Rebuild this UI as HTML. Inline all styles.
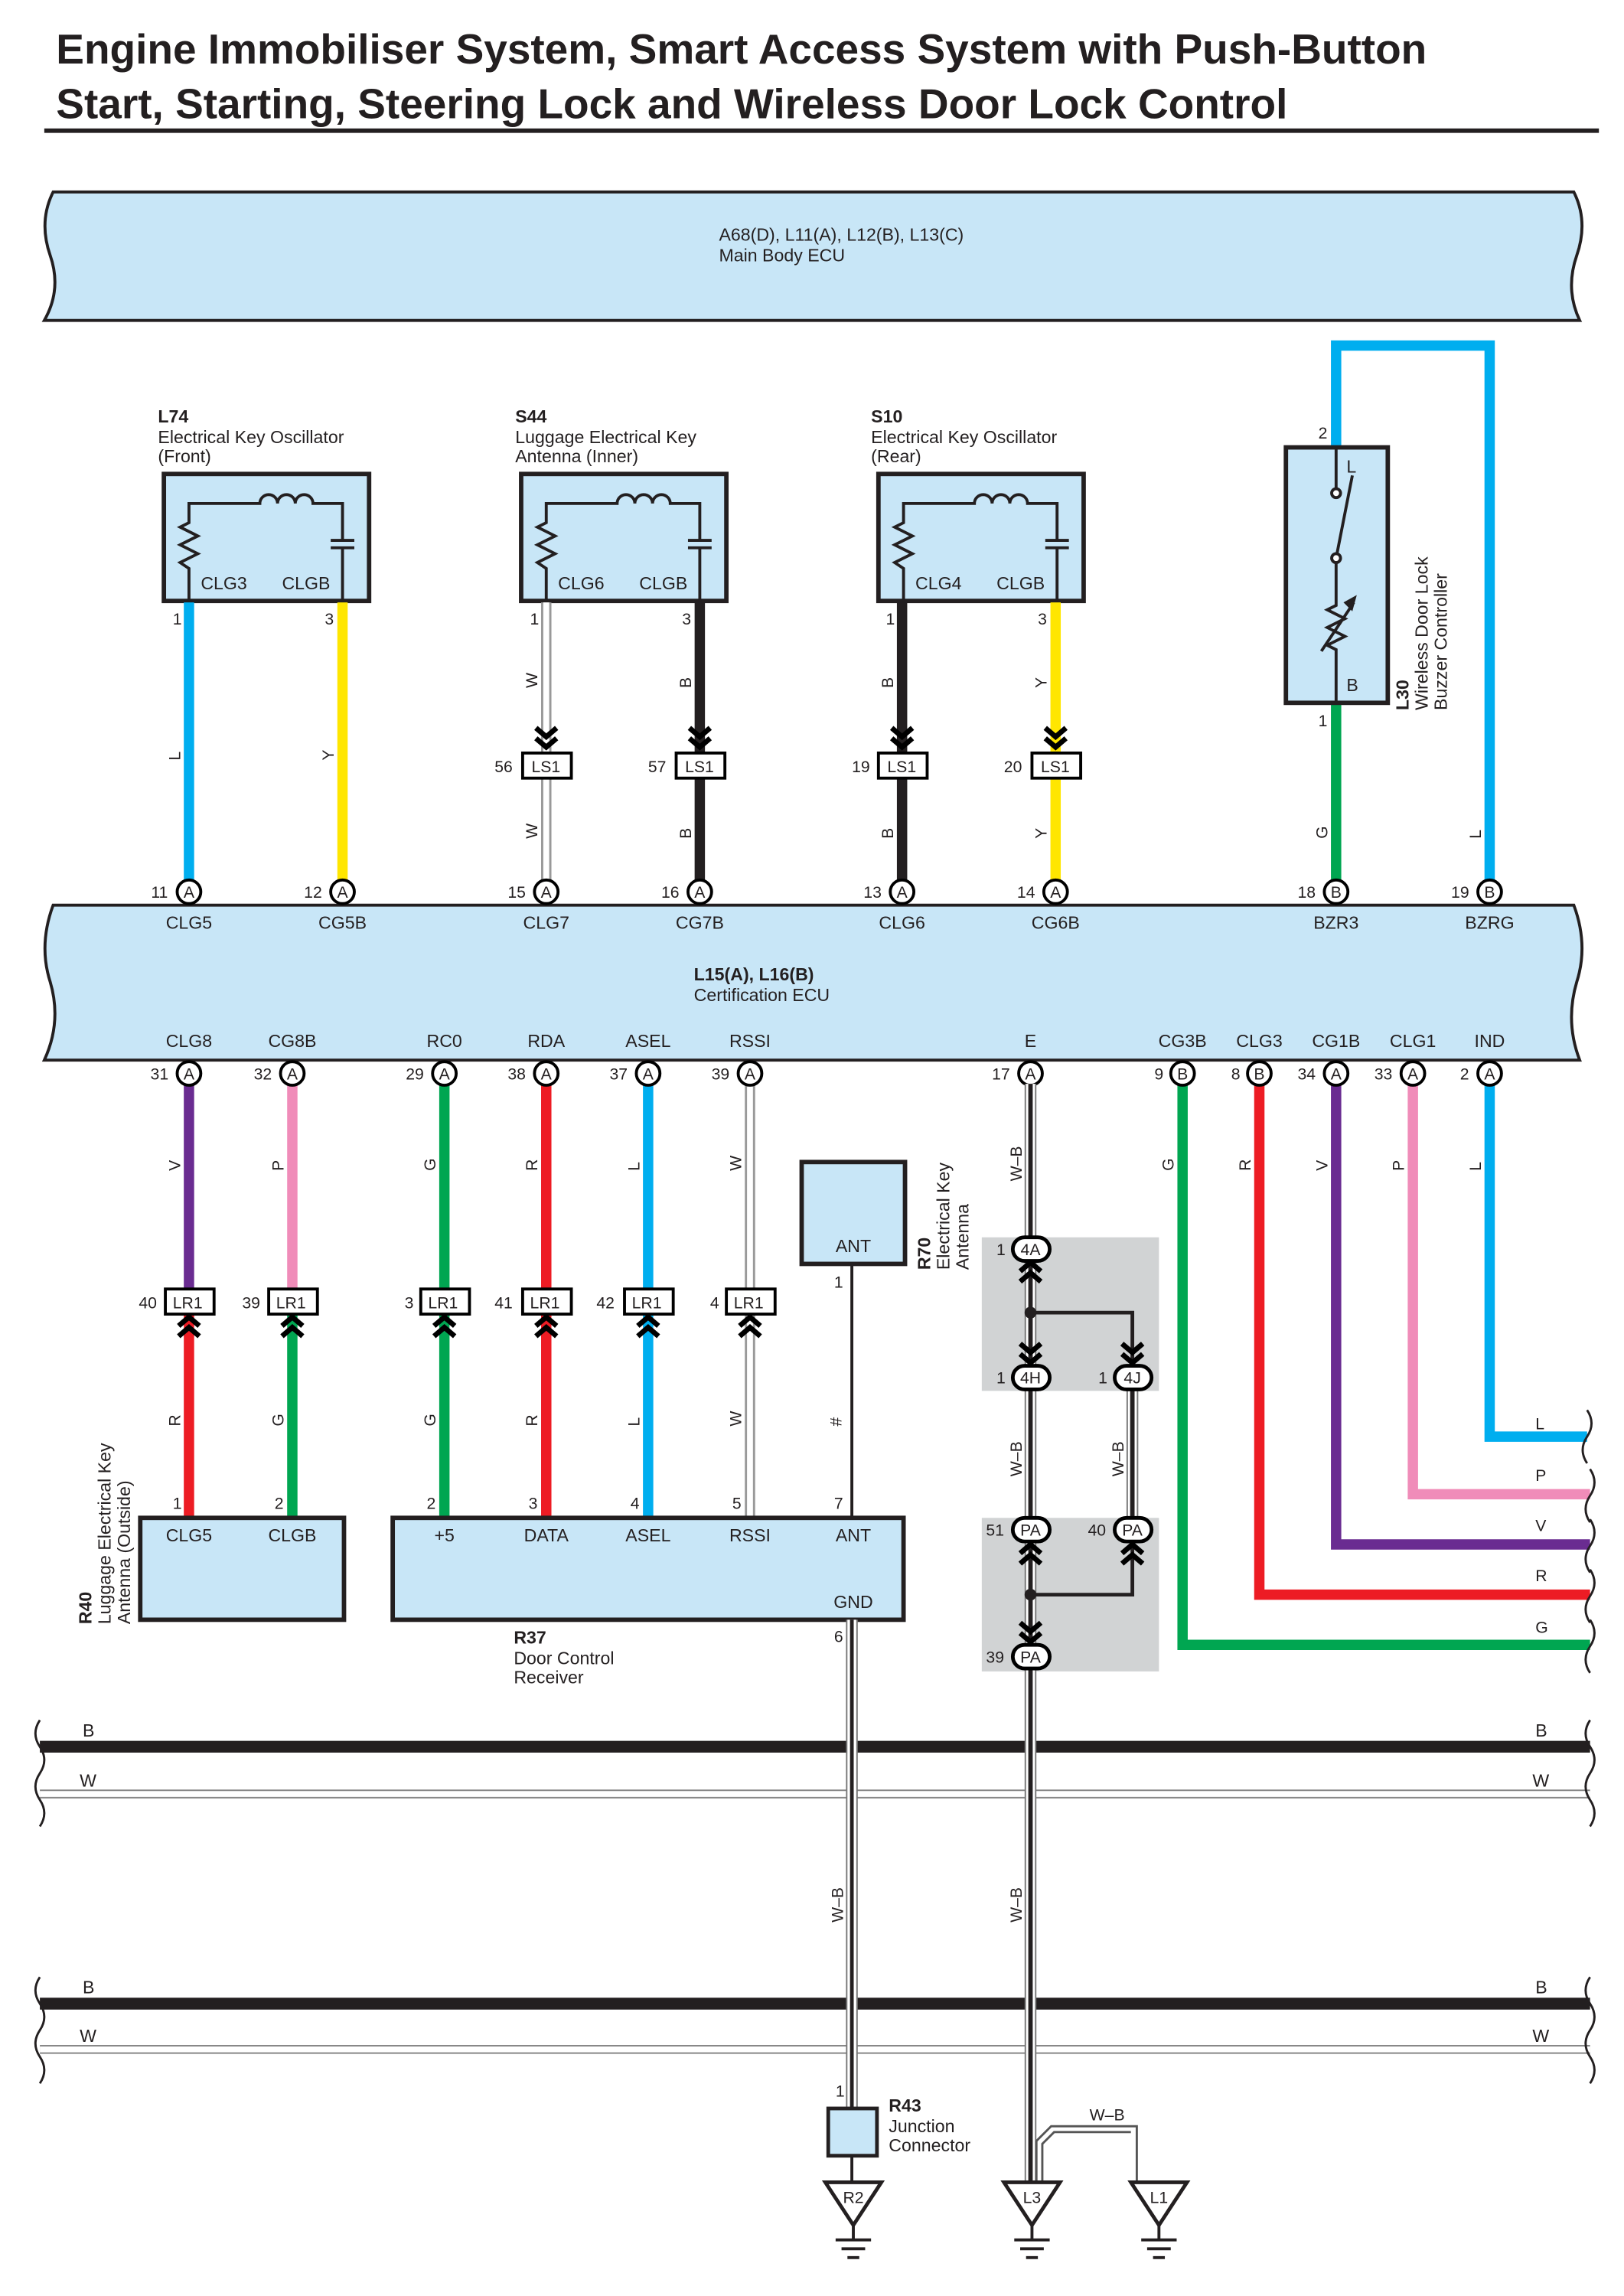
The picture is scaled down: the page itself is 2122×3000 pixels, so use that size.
<!DOCTYPE html>
<html><head><meta charset="utf-8"><style>
html,body{margin:0;padding:0;background:#fff}
svg{display:block}
text{font-family:"Liberation Sans",Arial,sans-serif;fill:#231f20}
.t{font-size:12px}
.s{font-size:11px}
.b{font-weight:bold}
</style></head><body>
<svg width="2122" height="3000" viewBox="0 0 1100 1555" preserveAspectRatio="none" xmlns="http://www.w3.org/2000/svg">
<defs>
<g id="chevD"><path d="M-7,-15 L0,-9 L7,-15 M-7,-8 L0,-2 L7,-8" fill="none" stroke="#000" stroke-width="3.5"/></g>
<g id="chevU"><path d="M-7,15 L0,9 L7,15 M-7,8 L0,2 L7,8" fill="none" stroke="#000" stroke-width="3.5"/></g>
<g id="osc">
<rect x="0" y="0" width="139" height="86" fill="#c8e6f7" stroke="#231f20" stroke-width="3"/>
<path d="M17,86 V64 L11,60 L23,54 L11,48 L23,42 L11,36 L17,33 V20 H65 a6,6 0 0 1 12,0 a6,6 0 0 1 12,0 a6,6 0 0 1 12,0 H121 V45 M113,45 H129 M113,50 H129 M121,50 V86" fill="none" stroke="#231f20" stroke-width="2"/>
</g>
</defs>

<!-- title -->
<text x="38" y="43" class="b" style="font-size:28.5px">Engine Immobiliser System, Smart Access System with Push-Button</text>
<text x="38" y="80" class="b" style="font-size:28.5px">Start, Starting, Steering Lock and Wireless Door Lock Control</text>
<rect x="30" y="87" width="1053" height="3" fill="#231f20"/>

<!-- Main body ECU band -->
<path d="M36,130 Q26,150 34,173 Q42,196 30,217 L1070,217 Q1060,196 1068,173 Q1076,150 1066,130 Z" fill="#c8e6f7" stroke="#231f20" stroke-width="2"/>
<text x="487" y="163" class="t">A68(D), L11(A), L12(B), L13(C)</text>
<text x="487" y="177" class="t">Main Body ECU</text>

<!-- Cert ECU band -->
<path d="M36,613 Q26,640 34,665 Q42,692 30,718 L1070,718 Q1060,692 1068,665 Q1076,640 1066,613 Z" fill="#c8e6f7" stroke="#231f20" stroke-width="2"/>
<text x="470" y="664" class="t b">L15(A), L16(B)</text>
<text x="470" y="678" class="t">Certification ECU</text>

<!-- Oscillators -->
<text x="107" y="286" class="t b">L74</text>
<text x="107" y="300" class="t">Electrical Key Oscillator</text>
<text x="107" y="313" class="t">(Front)</text>
<use href="#osc" x="111" y="321"/>
<text x="136" y="399" class="t">CLG3</text><text x="191" y="399" class="t">CLGB</text>

<text x="349" y="286" class="t b">S44</text>
<text x="349" y="300" class="t">Luggage Electrical Key</text>
<text x="349" y="313" class="t">Antenna (Inner)</text>
<use href="#osc" x="353" y="321"/>
<text x="378" y="399" class="t">CLG6</text><text x="433" y="399" class="t">CLGB</text>

<text x="590" y="286" class="t b">S10</text>
<text x="590" y="300" class="t">Electrical Key Oscillator</text>
<text x="590" y="313" class="t">(Rear)</text>
<use href="#osc" x="595" y="321"/>
<text x="620" y="399" class="t">CLG4</text><text x="675" y="399" class="t">CLGB</text>

<!-- top wires -->
<g stroke-width="7" fill="none">
<line x1="128" y1="408" x2="128" y2="597" stroke="#00aeef"/>
<line x1="232" y1="408" x2="232" y2="597" stroke="#ffe600"/>
<line x1="370" y1="408" x2="370" y2="597" stroke="#999"/>
<line x1="370" y1="408" x2="370" y2="597" stroke="#fff" stroke-width="4"/>
<line x1="474" y1="408" x2="474" y2="597" stroke="#231f20"/>
<line x1="611" y1="408" x2="611" y2="597" stroke="#231f20"/>
<line x1="715" y1="408" x2="715" y2="597" stroke="#ffe600"/>
<line x1="905" y1="477" x2="905" y2="597" stroke="#00a651"/>
<path d="M1009,597 V234 H905 V303" stroke="#00aeef"/>
</g>
<g class="s">
<text x="117" y="423">1</text><text x="220" y="423">3</text>
<text x="359" y="423">1</text><text x="462" y="423">3</text>
<text x="600" y="423">1</text><text x="703" y="423">3</text>
<text x="893" y="492">1</text><text x="893" y="297">2</text>
</g>
<g class="s">
<text transform="translate(122,515) rotate(-90)">L</text>
<text transform="translate(226,515) rotate(-90)">Y</text>
<text transform="translate(364,466) rotate(-90)">W</text>
<text transform="translate(468,466) rotate(-90)">B</text>
<text transform="translate(605,466) rotate(-90)">B</text>
<text transform="translate(709,466) rotate(-90)">Y</text>
<text transform="translate(364,568) rotate(-90)">W</text>
<text transform="translate(468,568) rotate(-90)">B</text>
<text transform="translate(605,568) rotate(-90)">B</text>
<text transform="translate(709,568) rotate(-90)">Y</text>
<text transform="translate(899,568) rotate(-90)">G</text>
<text transform="translate(1003,568) rotate(-90)">L</text>
</g>
<!-- LS1 connectors -->
<g>
<use href="#chevD" x="370" y="508"/><use href="#chevD" x="474" y="508"/>
<use href="#chevD" x="611" y="508"/><use href="#chevD" x="715" y="508"/>
<rect x="354" y="510" width="33" height="17" fill="#fff" stroke="#000" stroke-width="2"/>
<rect x="458" y="510" width="33" height="17" fill="#fff" stroke="#000" stroke-width="2"/>
<rect x="595" y="510" width="33" height="17" fill="#fff" stroke="#000" stroke-width="2"/>
<rect x="699" y="510" width="33" height="17" fill="#fff" stroke="#000" stroke-width="2"/>
<text x="360" y="523" class="s">LS1</text><text x="464" y="523" class="s">LS1</text>
<text x="601" y="523" class="s">LS1</text><text x="705" y="523" class="s">LS1</text>
<text x="335" y="523" class="s">56</text><text x="439" y="523" class="s">57</text>
<text x="577" y="523" class="s">19</text><text x="680" y="523" class="s">20</text>
</g>

<!-- L30 -->
<rect x="871" y="303" width="69" height="173" fill="#c8e6f7" stroke="#231f20" stroke-width="3"/>
<path d="M905,303 V331 M905,378 L916,322 M905,381 V410 L899,413 L911,419 L899,425 L911,431 L899,437 L905,440 V476 M895,441 L917,408" fill="none" stroke="#231f20" stroke-width="2"/>
<path d="M919,403 L910,408 L916,414 Z" fill="#231f20"/>
<circle cx="905" cy="334" r="3" fill="#fff" stroke="#231f20" stroke-width="2"/>
<circle cx="905" cy="378" r="3" fill="#fff" stroke="#231f20" stroke-width="2"/>
<text x="912" y="320" class="t">L</text><text x="912" y="468" class="t">B</text>
<text transform="translate(954,481) rotate(-90)" class="t b">L30</text>
<text transform="translate(967,481) rotate(-90)" class="t">Wireless Door Lock</text>
<text transform="translate(980,481) rotate(-90)" class="t">Buzzer Controller</text>

<!-- top ECU pins -->
<g stroke="#000" stroke-width="2" fill="#fff">
<circle cx="128" cy="604" r="8"/><circle cx="232" cy="604" r="8"/><circle cx="370" cy="604" r="8"/><circle cx="474" cy="604" r="8"/>
<circle cx="611" cy="604" r="8"/><circle cx="715" cy="604" r="8"/><circle cx="905" cy="604" r="8"/><circle cx="1009" cy="604" r="8"/>
</g>
<g class="s" text-anchor="middle">
<text x="128" y="608">A</text><text x="232" y="608">A</text><text x="370" y="608">A</text><text x="474" y="608">A</text>
<text x="611" y="608">A</text><text x="715" y="608">A</text><text x="905" y="608">B</text><text x="1009" y="608">B</text>
<text x="108" y="608">11</text><text x="212" y="608">12</text><text x="350" y="608">15</text><text x="454" y="608">16</text>
<text x="591" y="608">13</text><text x="695" y="608">14</text><text x="885" y="608">18</text><text x="989" y="608">19</text>
<text x="128" y="629" class="t">CLG5</text><text x="232" y="629" class="t">CG5B</text><text x="370" y="629" class="t">CLG7</text><text x="474" y="629" class="t">CG7B</text>
<text x="611" y="629" class="t">CLG6</text><text x="715" y="629" class="t">CG6B</text><text x="905" y="629" class="t">BZR3</text><text x="1009" y="629" class="t">BZRG</text>
<text x="128" y="709" class="t">CLG8</text><text x="198" y="709" class="t">CG8B</text><text x="301" y="709" class="t">RC0</text><text x="370" y="709" class="t">RDA</text>
<text x="439" y="709" class="t">ASEL</text><text x="508" y="709" class="t">RSSI</text><text x="698" y="709" class="t">E</text><text x="801" y="709" class="t">CG3B</text>
<text x="853" y="709" class="t">CLG3</text><text x="905" y="709" class="t">CG1B</text><text x="957" y="709" class="t">CLG1</text><text x="1009" y="709" class="t">IND</text>
</g>

<!-- gray boxes -->
<rect x="665" y="838" width="120" height="104" fill="#d1d3d4"/>
<rect x="665" y="1028" width="120" height="104" fill="#d1d3d4"/>

<!-- bottom wires -->
<g stroke-width="7" fill="none">
<line x1="128" y1="734" x2="128" y2="873" stroke="#6a2c91"/>
<line x1="198" y1="734" x2="198" y2="873" stroke="#f08cb9"/>
<line x1="301" y1="734" x2="301" y2="873" stroke="#00a651"/>
<line x1="370" y1="734" x2="370" y2="873" stroke="#ed1c24"/>
<line x1="439" y1="734" x2="439" y2="873" stroke="#00aeef"/>
<line x1="508" y1="734" x2="508" y2="873" stroke="#999"/>
<line x1="508" y1="734" x2="508" y2="873" stroke="#fff" stroke-width="4"/>
<line x1="128" y1="890" x2="128" y2="1028" stroke="#ed1c24"/>
<line x1="198" y1="890" x2="198" y2="1028" stroke="#00a651"/>
<line x1="301" y1="890" x2="301" y2="1028" stroke="#00a651"/>
<line x1="370" y1="890" x2="370" y2="1028" stroke="#ed1c24"/>
<line x1="439" y1="890" x2="439" y2="1028" stroke="#00aeef"/>
<line x1="508" y1="890" x2="508" y2="1028" stroke="#999"/>
<line x1="508" y1="890" x2="508" y2="1028" stroke="#fff" stroke-width="4"/>
<path d="M1009,734 V973 H1075" stroke="#00aeef"/>
<path d="M957,734 V1012 H1077" stroke="#f08cb9"/>
<path d="M905,734 V1046 H1077" stroke="#6a2c91"/>
<path d="M853,734 V1080 H1077" stroke="#ed1c24"/>
<path d="M801,734 V1114 H1077" stroke="#00a651"/>
</g>
<path d="M1075,955 q6,9 0,18 q-6,9 0,18 M1077,995 q6,9 0,18 q-6,9 0,18 M1077,1029 q6,9 0,18 q-6,9 0,18 M1077,1063 q6,9 0,18 q-6,9 0,18 M1077,1097 q6,9 0,18 q-6,9 0,18" fill="none" stroke="#231f20" stroke-width="1.5"/>
<g class="s">
<text x="1040" y="968">L</text><text x="1040" y="1003">P</text><text x="1040" y="1037">V</text><text x="1040" y="1071">R</text><text x="1040" y="1106">G</text>
</g>
<g class="s">
<text transform="translate(122,793) rotate(-90)">V</text>
<text transform="translate(192,793) rotate(-90)">P</text>
<text transform="translate(295,793) rotate(-90)">G</text>
<text transform="translate(364,793) rotate(-90)">R</text>
<text transform="translate(433,793) rotate(-90)">L</text>
<text transform="translate(502,793) rotate(-90)">W</text>
<text transform="translate(795,793) rotate(-90)">G</text>
<text transform="translate(847,793) rotate(-90)">R</text>
<text transform="translate(899,793) rotate(-90)">V</text>
<text transform="translate(951,793) rotate(-90)">P</text>
<text transform="translate(1003,793) rotate(-90)">L</text>
<text transform="translate(122,966) rotate(-90)">R</text>
<text transform="translate(192,966) rotate(-90)">G</text>
<text transform="translate(295,966) rotate(-90)">G</text>
<text transform="translate(364,966) rotate(-90)">R</text>
<text transform="translate(433,966) rotate(-90)">L</text>
<text transform="translate(502,966) rotate(-90)">W</text>
<text transform="translate(570,966) rotate(-90)">#</text>
</g>

<!-- LR1 connectors -->
<g>
<use href="#chevU" x="128" y="890"/><use href="#chevU" x="198" y="890"/><use href="#chevU" x="301" y="890"/>
<use href="#chevU" x="370" y="890"/><use href="#chevU" x="439" y="890"/><use href="#chevU" x="508" y="890"/>
<g fill="#fff" stroke="#000" stroke-width="2">
<rect x="112" y="873" width="33" height="17"/><rect x="182" y="873" width="33" height="17"/><rect x="285" y="873" width="33" height="17"/>
<rect x="354" y="873" width="33" height="17"/><rect x="423" y="873" width="33" height="17"/><rect x="492" y="873" width="33" height="17"/>
</g>
<g class="s">
<text x="117" y="886">LR1</text><text x="187" y="886">LR1</text><text x="290" y="886">LR1</text>
<text x="359" y="886">LR1</text><text x="428" y="886">LR1</text><text x="497" y="886">LR1</text>
<text x="94" y="886">40</text><text x="164" y="886">39</text><text x="274" y="886">3</text>
<text x="335" y="886">41</text><text x="404" y="886">42</text><text x="481" y="886">4</text>
</g>
</g>

<!-- bottom ECU pins -->
<g stroke="#000" stroke-width="2" fill="#fff">
<circle cx="128" cy="727" r="8"/><circle cx="198" cy="727" r="8"/><circle cx="301" cy="727" r="8"/><circle cx="370" cy="727" r="8"/>
<circle cx="439" cy="727" r="8"/><circle cx="508" cy="727" r="8"/><circle cx="698" cy="727" r="8"/><circle cx="801" cy="727" r="8"/>
<circle cx="853" cy="727" r="8"/><circle cx="905" cy="727" r="8"/><circle cx="957" cy="727" r="8"/><circle cx="1009" cy="727" r="8"/>
</g>
<g class="s" text-anchor="middle">
<text x="128" y="731">A</text><text x="198" y="731">A</text><text x="301" y="731">A</text><text x="370" y="731">A</text>
<text x="439" y="731">A</text><text x="508" y="731">A</text><text x="698" y="731">A</text><text x="801" y="731">B</text>
<text x="853" y="731">B</text><text x="905" y="731">A</text><text x="957" y="731">A</text><text x="1009" y="731">A</text>
<text x="108" y="731">31</text><text x="178" y="731">32</text><text x="281" y="731">29</text><text x="350" y="731">38</text>
<text x="419" y="731">37</text><text x="488" y="731">39</text><text x="678" y="731">17</text><text x="785" y="731">9</text>
<text x="837" y="731">8</text><text x="885" y="731">34</text><text x="937" y="731">33</text><text x="992" y="731">2</text>
</g>

<!-- R40 / R37 boxes -->
<rect x="95" y="1028" width="138" height="69" fill="#c8e6f7" stroke="#231f20" stroke-width="3"/>
<rect x="266" y="1028" width="346" height="69" fill="#c8e6f7" stroke="#231f20" stroke-width="3"/>
<g class="t" text-anchor="middle">
<text x="128" y="1044">CLG5</text><text x="198" y="1044">CLGB</text>
<text x="301" y="1044">+5</text><text x="370" y="1044">DATA</text><text x="439" y="1044">ASEL</text><text x="508" y="1044">RSSI</text><text x="578" y="1044">ANT</text>
<text x="578" y="1089">GND</text>
</g>
<g class="s">
<text x="117" y="1022">1</text><text x="186" y="1022">2</text><text x="289" y="1022">2</text><text x="358" y="1022">3</text>
<text x="427" y="1022">4</text><text x="496" y="1022">5</text><text x="565" y="1022">7</text><text x="565" y="1112">6</text>
<text x="565" y="872">1</text>
</g>
<text transform="translate(62,1100) rotate(-90)" class="t b">R40</text>
<text transform="translate(75,1100) rotate(-90)" class="t">Luggage Electrical Key</text>
<text transform="translate(88,1100) rotate(-90)" class="t">Antenna (Outside)</text>
<text x="348" y="1113" class="t b">R37</text>
<text x="348" y="1127" class="t">Door Control</text>
<text x="348" y="1140" class="t">Receiver</text>

<!-- R70 -->
<rect x="543" y="787" width="70" height="69" fill="#c8e6f7" stroke="#231f20" stroke-width="3"/>
<text x="566" y="848" class="t">ANT</text>
<line x1="577" y1="856" x2="577" y2="1028" stroke="#231f20" stroke-width="2"/>
<text transform="translate(630,860) rotate(-90)" class="t b">R70</text>
<text transform="translate(643,860) rotate(-90)" class="t">Electrical Key</text>
<text transform="translate(656,860) rotate(-90)" class="t">Antenna</text>

<!-- bus bars -->
<g fill="none">
<line x1="27" y1="1183" x2="1077" y2="1183" stroke="#231f20" stroke-width="8"/>
<line x1="27" y1="1215" x2="1077" y2="1215" stroke="#888" stroke-width="6"/>
<line x1="27" y1="1215" x2="1077" y2="1215" stroke="#fff" stroke-width="4"/>
<line x1="27" y1="1357" x2="1077" y2="1357" stroke="#231f20" stroke-width="8"/>
<line x1="27" y1="1388" x2="1077" y2="1388" stroke="#888" stroke-width="6"/>
<line x1="27" y1="1388" x2="1077" y2="1388" stroke="#fff" stroke-width="4"/>
<path d="M27,1165 q-6,9 0,18 q6,9 0,18 q-6,9 0,18 q6,9 0,18 M1077,1165 q-6,9 0,18 q6,9 0,18 q-6,9 0,18 q6,9 0,18 M27,1339 q-6,9 0,18 q6,9 0,18 q-6,9 0,18 q6,9 0,18 M1077,1339 q-6,9 0,18 q6,9 0,18 q-6,9 0,18 q6,9 0,18" stroke="#231f20" stroke-width="1.5"/>
</g>
<g class="t">
<text x="56" y="1176">B</text><text x="1040" y="1176">B</text><text x="54" y="1210">W</text><text x="1038" y="1210">W</text>
<text x="56" y="1350">B</text><text x="1040" y="1350">B</text><text x="54" y="1383">W</text><text x="1038" y="1383">W</text>
</g>

<!-- W-B wires -->
<g fill="none">
<line x1="577" y1="1097" x2="577" y2="1428" stroke="#777" stroke-width="8"/>
<line x1="577" y1="1097" x2="577" y2="1428" stroke="#fff" stroke-width="6"/>
<line x1="577" y1="1097" x2="577" y2="1428" stroke="#231f20" stroke-width="2.5"/>
<line x1="577" y1="1460" x2="577" y2="1478" stroke="#231f20" stroke-width="2"/>
<path d="M698,734 V1478 M767,933 V1036" stroke="#777" stroke-width="8"/>
<path d="M698,734 V1478 M767,933 V1036" stroke="#fff" stroke-width="6"/>
<path d="M698,734 V1478 M767,933 V1036" stroke="#231f20" stroke-width="3"/>
<path d="M698,889 H767 V925 M698,1080 H767 V1044" stroke="#231f20" stroke-width="2.5"/>
<path d="M702,1478 V1450 L712,1440 H770 V1478 M706,1478 V1452 L714,1444 H766" stroke="#555" stroke-width="1.5"/>
</g>
<circle cx="698" cy="889" r="4" fill="#231f20"/><circle cx="698" cy="1080" r="4" fill="#231f20"/>
<use href="#chevU" x="698" y="853"/><use href="#chevD" x="698" y="925"/><use href="#chevD" x="767" y="925"/>
<use href="#chevU" x="698" y="1044"/><use href="#chevU" x="767" y="1044"/><use href="#chevD" x="698" y="1114"/>
<g fill="#fff" stroke="#000" stroke-width="2.5">
<rect x="686" y="838" width="25" height="16" rx="8"/><rect x="686" y="925" width="25" height="16" rx="8"/><rect x="755" y="925" width="25" height="16" rx="8"/>
<rect x="686" y="1028" width="25" height="16" rx="8"/><rect x="755" y="1028" width="25" height="16" rx="8"/><rect x="686" y="1114" width="25" height="16" rx="8"/>
</g>
<g class="s" text-anchor="middle">
<text x="698" y="850">4A</text><text x="698" y="937">4H</text><text x="767" y="937">4J</text>
<text x="698" y="1040">PA</text><text x="767" y="1040">PA</text><text x="698" y="1126">PA</text>
<text x="678" y="850">1</text><text x="678" y="937">1</text><text x="747" y="937">1</text>
<text x="674" y="1040">51</text><text x="743" y="1040">40</text><text x="674" y="1126">39</text>
</g>
<g class="s">
<text transform="translate(692,800) rotate(-90)">W–B</text>
<text transform="translate(692,1000) rotate(-90)">W–B</text>
<text transform="translate(761,1000) rotate(-90)">W–B</text>
<text transform="translate(571,1302) rotate(-90)">W–B</text>
<text transform="translate(692,1302) rotate(-90)">W–B</text>
<text x="738" y="1436">W–B</text>
<text x="566" y="1420">1</text>
</g>

<!-- R43 -->
<rect x="561" y="1428" width="33" height="32" fill="#c8e6f7" stroke="#231f20" stroke-width="2.5"/>
<text x="602" y="1430" class="t b">R43</text>
<text x="602" y="1444" class="t">Junction</text>
<text x="602" y="1457" class="t">Connector</text>

<!-- grounds -->
<g fill="#fff" stroke="#231f20" stroke-width="2.5">
<path d="M559,1478 H597 L578,1507 Z"/>
<path d="M680,1478 H718 L699,1507 Z"/>
<path d="M766,1478 H804 L785,1507 Z"/>
</g>
<g stroke="#231f20" stroke-width="2">
<path d="M578,1507 V1517 M566,1517 H590 M570,1523 H586 M574,1529 H582"/>
<path d="M699,1507 V1517 M687,1517 H711 M691,1523 H707 M695,1529 H703"/>
<path d="M785,1507 V1517 M773,1517 H797 M777,1523 H793 M781,1529 H789"/>
</g>
<g class="s" text-anchor="middle">
<text x="578" y="1492">R2</text><text x="699" y="1492">L3</text><text x="785" y="1492">L1</text>
</g>
</svg>
</body></html>
